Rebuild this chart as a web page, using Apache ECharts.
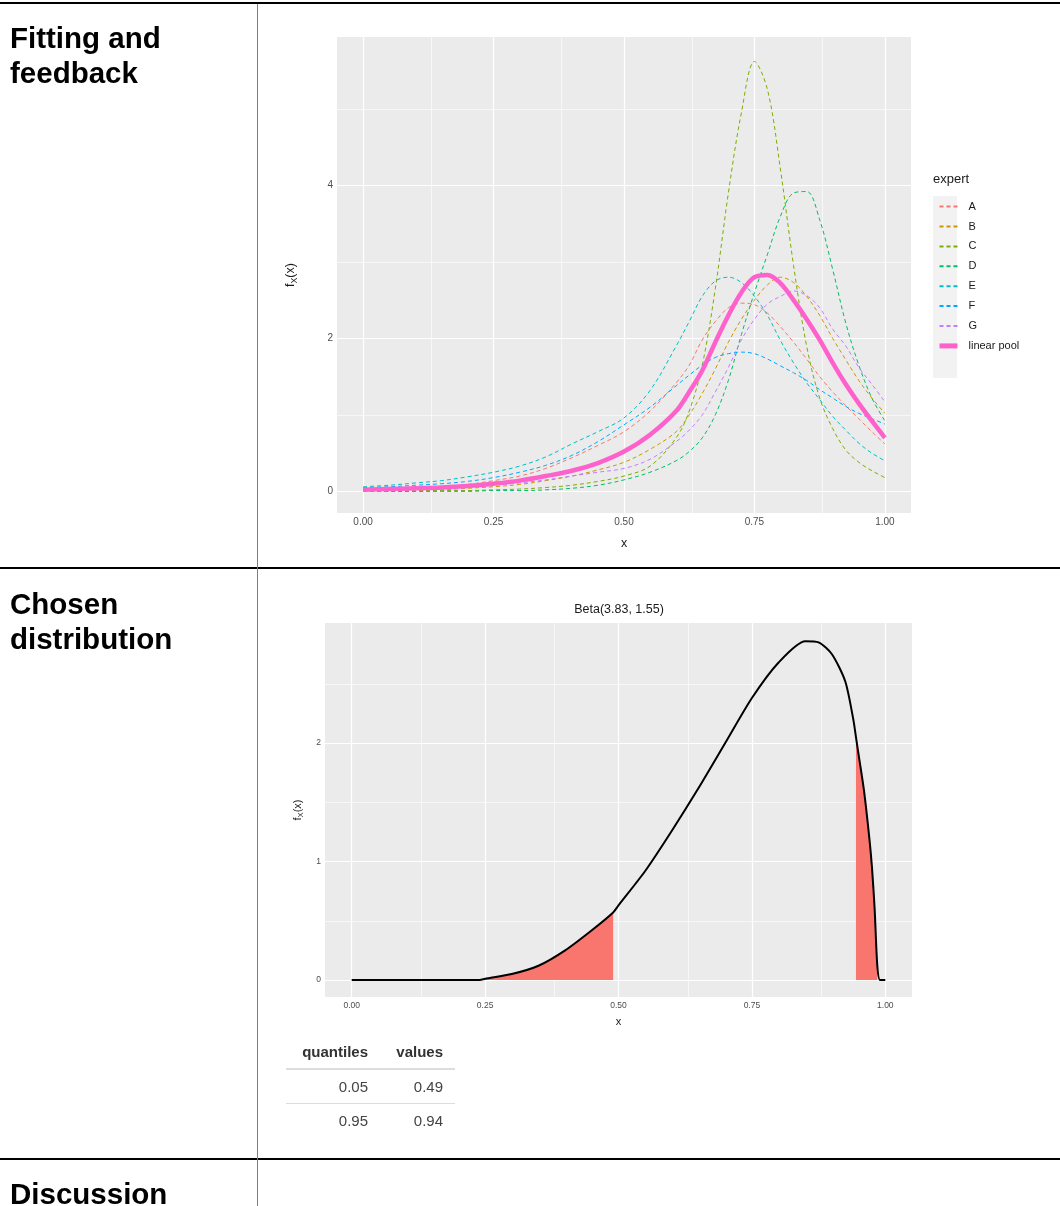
<!DOCTYPE html>
<html><head><meta charset="utf-8">
<script src="https://cdn.jsdelivr.net/npm/echarts@6/dist/echarts.min.js"></script>
<style>
html,body{margin:0;padding:0;background:#fff;}
#page{position:relative;width:1060px;height:1206px;overflow:hidden;font-family:'Liberation Sans',Arial,sans-serif;}
#chart{position:absolute;left:0;top:0;width:1060px;height:1206px;}
.hl{position:absolute;left:0;width:1060px;height:2px;background:#000;}
.vl{position:absolute;left:257px;top:4px;width:1px;height:1202px;background:#7f7f7f;}
.sec{position:absolute;left:10px;font-weight:bold;font-size:29.5px;line-height:35px;color:#000;white-space:nowrap;}
.tb{position:absolute;font-size:15px;line-height:15px;color:#444;text-align:right;white-space:nowrap;}
.th{font-weight:bold;color:#333;}
.rule{position:absolute;left:286px;width:169px;background:#ddd;}
</style></head><body>
<div id="page">
<div id="chart"></div>
<div class="hl" style="top:2px"></div>
<div class="hl" style="top:567px"></div>
<div class="hl" style="top:1158px"></div>
<div class="vl"></div>
<div class="sec" style="top:20px">Fitting and<br>feedback</div>
<div class="sec" style="top:586px">Chosen<br>distribution</div>
<div class="sec" style="top:1176px">Discussion</div>
<div id="tbl"></div>
</div>
<script>
// ---------- data ----------
const topX = [0,0.05,0.1,0.15,0.2,0.25,0.3,0.35,0.4,0.45,0.5,0.55,0.6,0.625,0.65,0.675,0.7,0.725,0.75,0.775,0.8,0.825,0.85,0.875,0.9,0.925,0.95,0.975,1.0];
const expertA = [0.02,0.03,0.04,0.06,0.09,0.14,0.2,0.3,0.44,0.6,0.78,1.05,1.42,1.65,1.98,2.22,2.4,2.46,2.44,2.33,2.15,1.95,1.73,1.5,1.3,1.12,0.95,0.78,0.62];
const expertB = [0,0.01,0.01,0.02,0.04,0.06,0.09,0.14,0.2,0.28,0.38,0.55,0.78,1.0,1.28,1.6,1.95,2.25,2.5,2.7,2.8,2.73,2.55,2.3,2.0,1.72,1.45,1.22,1.02];
const expertC = [0,0,0,0.01,0.01,0.02,0.03,0.05,0.08,0.13,0.2,0.33,0.7,1.05,1.65,2.65,3.9,4.95,5.62,5.25,4.2,2.95,1.9,1.22,0.82,0.54,0.38,0.27,0.18];
const expertD = [0,0,0,0,0,0.01,0.01,0.02,0.04,0.08,0.15,0.25,0.4,0.52,0.7,1.0,1.45,2.05,2.6,3.1,3.6,3.9,3.92,3.55,2.9,2.2,1.65,1.22,0.92];
const expertE = [0.06,0.08,0.11,0.14,0.19,0.25,0.33,0.45,0.62,0.78,0.96,1.32,1.9,2.22,2.55,2.75,2.8,2.73,2.55,2.3,1.97,1.68,1.42,1.2,0.98,0.8,0.63,0.5,0.4];
const expertF = [0.05,0.06,0.08,0.1,0.13,0.18,0.25,0.34,0.47,0.65,0.87,1.1,1.38,1.52,1.65,1.75,1.8,1.82,1.8,1.73,1.64,1.55,1.45,1.33,1.22,1.11,1.02,0.95,0.88];
const expertG = [0.01,0.01,0.02,0.03,0.05,0.08,0.11,0.15,0.2,0.25,0.3,0.42,0.65,0.8,1.0,1.3,1.62,1.98,2.25,2.45,2.55,2.62,2.56,2.4,2.12,1.9,1.62,1.4,1.17];
const linearPool = [0.02,0.03,0.04,0.05,0.07,0.1,0.14,0.2,0.27,0.37,0.52,0.74,1.05,1.3,1.58,1.95,2.3,2.6,2.8,2.83,2.72,2.5,2.25,1.98,1.68,1.4,1.15,0.92,0.7];

const betaX = [0,0.05,0.1,0.15,0.2,0.24,0.25,0.3,0.35,0.4,0.45,0.49,0.5,0.55,0.6,0.65,0.7,0.75,0.8,0.85,0.875,0.9,0.925,0.94,0.945,0.95,0.96,0.97,0.975,0.98,0.985,0.99,1.0];
const betaY = [0,0,0,0,0,0,0.01,0.05,0.12,0.25,0.42,0.57,0.63,0.92,1.26,1.62,2.0,2.38,2.68,2.86,2.85,2.75,2.52,2.2,2.05,1.9,1.6,1.2,0.95,0.6,0.12,0,0];
const lowTail = [0.24, 0.49];
const highTail = [0.945, 0.985];

const xTickVals = [0,0.25,0.5,0.75,1];
const xMinorVals = [0.125,0.375,0.625,0.875];
const topYTicks = [0,2,4];
const topYMinor = [1,3,5];
const botYTicks = [0,1,2];
const botYMinor = [0.5,1.5,2.5];

const expertNames = ['A','B','C','D','E','F','G'];
const expertColors = ['#F8766D','#CD9600','#7CAE00','#00BE67','#00BFC4','#00A9FF','#C77CFF'];
const poolName = 'linear pool';
const poolColor = '#FF61CC';
const expertValues = [expertA,expertB,expertC,expertD,expertE,expertF,expertG];

const quantileRows = ['0.05','0.95'];
const valueRows = ['0.49','0.94'];

// ---------- table ----------
(function(){
  const t = document.getElementById('tbl');
  let h = '';
  h += '<div class="tb th" style="left:260px;width:108px;top:1044px">quantiles</div>';
  h += '<div class="tb th" style="left:380px;width:63px;top:1044px">values</div>';
  h += '<div class="rule" style="top:1068px;height:2px"></div>';
  quantileRows.forEach((q,i)=>{
    const top = 1079 + i*34;
    h += '<div class="tb" style="left:260px;width:108px;top:'+top+'px">'+q+'</div>';
    h += '<div class="tb" style="left:380px;width:63px;top:'+top+'px">'+valueRows[i]+'</div>';
  });
  h += '<div class="rule" style="top:1103px;height:1px"></div>';
  t.innerHTML = h;
})();

// ---------- chart ----------
const pairs = (xs, ys) => xs.map((x,i)=>[x, ys[i]]);
function gridLines(xMaj, xMin, yMaj, yMin){
  const d = [];
  xMin.forEach(v=>d.push({xAxis:v, lineStyle:{width:0.6}}));
  yMin.forEach(v=>d.push({yAxis:v, lineStyle:{width:0.6}}));
  xMaj.forEach(v=>d.push({xAxis:v, lineStyle:{width:1.2}}));
  yMaj.forEach(v=>d.push({yAxis:v, lineStyle:{width:1.2}}));
  return d;
}
const betaPairs = pairs(betaX, betaY);
const tailPairs = r => betaPairs.filter(p => p[0] >= r[0]-1e-9 && p[0] <= r[1]+1e-9);

const fontFam = "'Liberation Sans', Arial, sans-serif";
const yName = '{f|f}{s|X}{f|(x)}';

function xAxisCfg(gi, fs, gap, nfs){
  return {gridIndex:gi, type:'value', min:-0.05, max:1.05,
    splitLine:{show:false}, axisLine:{show:false},
    axisTick:{show:true, customValues:xTickVals, length:3.5, lineStyle:{color:'#333',width:1}},
    axisLabel:{customValues:xTickVals, formatter:v=>v.toFixed(2), color:'#4D4D4D', fontSize:fs, margin:4},
    name:'x', nameLocation:'middle', nameGap:gap, nameTextStyle:{fontSize:nfs, color:'#1a1a1a'}};
}
function yAxisCfg(gi, min, max, ticks, fs, gap, nfs){
  return {gridIndex:gi, type:'value', min:min, max:max,
    splitLine:{show:false}, axisLine:{show:false},
    axisTick:{show:true, customValues:ticks, length:3.5, lineStyle:{color:'#333',width:1}},
    axisLabel:{customValues:ticks, formatter:v=>String(v), color:'#4D4D4D', fontSize:fs, margin:4},
    name:yName, nameLocation:'middle', nameRotate:90, nameGap:gap,
    nameTextStyle:{color:'#1a1a1a', rich:{f:{fontSize:nfs, color:'#1a1a1a', lineHeight:nfs+4}, s:{fontSize:nfs*0.7, color:'#1a1a1a', verticalAlign:'bottom', lineHeight:nfs+4}}}};
}

const series = [];
series.push({type:'line', name:'grid0', xAxisIndex:0, yAxisIndex:0, data:[], z:1, silent:true,
  markLine:{z:1, silent:true, symbol:['none','none'], label:{show:false}, lineStyle:{color:'#ffffff', type:'solid'}, animation:false,
    data:gridLines(xTickVals, xMinorVals, topYTicks, topYMinor)}});
series.push({type:'line', name:'grid1', xAxisIndex:1, yAxisIndex:1, data:[], z:1, silent:true,
  markLine:{z:1, silent:true, symbol:['none','none'], label:{show:false}, lineStyle:{color:'#ffffff', type:'solid'}, animation:false,
    data:gridLines(xTickVals, xMinorVals, botYTicks, botYMinor)}});
expertNames.forEach((n,i)=>{
  series.push({type:'line', name:n, xAxisIndex:0, yAxisIndex:0, data:pairs(topX, expertValues[i]),
    showSymbol:false, symbol:'none', smooth:0.35, z:3,
    itemStyle:{color:expertColors[i]},
    lineStyle:{color:expertColors[i], width:1, type:[4,3]}});
});
series.push({type:'line', name:poolName, xAxisIndex:0, yAxisIndex:0, data:pairs(topX, linearPool),
  showSymbol:false, symbol:'none', smooth:0.35, z:4,
  itemStyle:{color:poolColor}, lineStyle:{color:poolColor, width:4.5}});
[lowTail, highTail].forEach((r,i)=>{
  series.push({type:'line', name:'tail'+i, xAxisIndex:1, yAxisIndex:1, data:tailPairs(r),
    showSymbol:false, symbol:'none', smooth:0.25, z:2,
    lineStyle:{width:0, color:'#F8766D'}, areaStyle:{color:'#F8766D', opacity:1}});
});
series.push({type:'line', name:'beta', xAxisIndex:1, yAxisIndex:1, data:betaPairs,
  showSymbol:false, symbol:'none', smooth:0.25, z:3,
  lineStyle:{color:'#000', width:2}});

const legendData = expertNames.map(n=>({name:n}));
legendData.push({name:poolName, lineStyle:{width:5, color:poolColor, type:'solid'}});

const chart = echarts.init(document.getElementById('chart'), null, {renderer:'canvas'});
chart.setOption({
  animation:false,
  textStyle:{fontFamily:fontFam},
  title:[
    {text:'expert', left:933, top:173, padding:0, textStyle:{fontSize:13, fontWeight:'normal', color:'#1a1a1a', fontFamily:fontFam}},
    {text:'Beta(3.83, 1.55)', left:619, top:603, textAlign:'center', padding:0, textStyle:{fontSize:12.5, fontWeight:'normal', color:'#1a1a1a', fontFamily:fontFam}}
  ],
  legend:{orient:'vertical', left:937, top:201, padding:0, itemWidth:18, itemHeight:14, itemGap:8.7,
    selectedMode:false, data:legendData,
    itemStyle:{opacity:0},
    lineStyle:{type:'inherit'},
    textStyle:{fontSize:11, color:'#1a1a1a', padding:[0,0,0,6]}},
  graphic:[{type:'rect', z:-1, shape:{x:933, y:196, width:24, height:182}, style:{fill:'#F2F2F2'}}],
  grid:[
    {left:337, top:37, width:574, height:476, show:true, backgroundColor:'#EBEBEB', borderWidth:0},
    {left:325, top:623, width:587, height:374, show:true, backgroundColor:'#EBEBEB', borderWidth:0}
  ],
  xAxis:[xAxisCfg(0, 10, 24, 12.5), xAxisCfg(1, 8.5, 19, 11)],
  yAxis:[yAxisCfg(0, -0.283, 5.94, topYTicks, 10, 38, 12.5), yAxisCfg(1, -0.1435, 3.0135, botYTicks, 8.5, 18, 11)],
  series:series
});
</script>
</body></html>
